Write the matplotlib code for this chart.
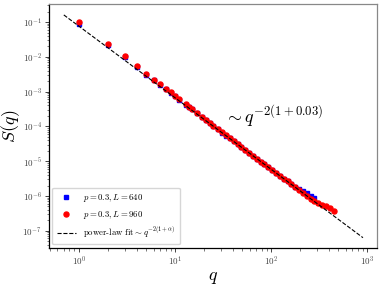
import numpy as np
import matplotlib
matplotlib.use('Agg')
import matplotlib.pyplot as plt

plt.rcParams['font.family'] = 'serif'
plt.rcParams['font.serif'] = ['cmr10', 'DejaVu Serif']
plt.rcParams['mathtext.fontset'] = 'cm'
plt.rcParams['axes.formatter.use_mathtext'] = True

# data
q_640 = [1, 2, 3, 4, 5, 6, 7, 8, 9, 10, 11, 13, 14, 15, 17, 19, 21, 23, 25, 28,
         31, 34, 37, 41, 45, 49, 54, 59, 65, 71, 78, 85, 93, 102, 112, 123, 135,
         148, 162, 178, 195, 214, 234, 257, 282]
S_640 = [0.0884, 0.0212, 0.00986, 0.00520, 0.00307, 0.00211, 0.00153, 0.00116,
         0.000914, 0.000727, 0.000592, 0.000419, 0.000356, 0.000308, 0.000236,
         0.000187, 0.000152, 0.000125, 0.000105, 8.24e-5, 6.68e-5, 5.46e-5,
         4.58e-5, 3.71e-5, 3.06e-5, 2.57e-5, 2.10e-5, 1.75e-5, 1.44e-5, 1.18e-5,
         9.75e-6, 8.17e-6, 6.79e-6, 5.60e-6, 4.62e-6, 3.81e-6, 3.15e-6, 2.61e-6,
         2.16e-6, 1.82e-6, 1.58e-6, 1.37e-6, 1.19e-6, 1.03e-6, 8.89e-7]

q_960 = q_640 + [309, 339, 372, 408, 453]
S_960 = [0.100, 0.0238, 0.0108, 0.00557, 0.00321, 0.00221, 0.00161, 0.00122,
         0.00098, 0.000761, 0.000619, 0.000434, 0.000368, 0.000319, 0.000244,
         0.000191, 0.000156, 0.000128, 0.000106, 8.34e-5, 6.76e-5, 5.52e-5,
         4.63e-5, 3.75e-5, 3.10e-5, 2.60e-5, 2.10e-5, 1.75e-5, 1.44e-5, 1.18e-5,
         9.75e-6, 8.17e-6, 6.79e-6, 5.60e-6, 4.62e-6, 3.81e-6, 3.15e-6, 2.61e-6,
         2.16e-6, 1.78e-6, 1.48e-6, 1.22e-6, 9.91e-7, 8.36e-7, 7.06e-7,
         6.27e-7, 5.68e-7, 5.13e-7, 4.45e-7, 3.80e-7]

# power-law fit S = A q^(-2(1+alpha))
fit_amp = 0.077
fit_alpha = 0.03
fit_qmin, fit_qmax = 0.7, 900

fig = plt.figure(figsize=(3.82, 2.88), dpi=100)
ax = fig.add_axes([0.128, 0.139, 0.859, 0.847])

ax.plot(q_640, S_640, 's', color='blue', ms=3.2, label=r'$p=0.3, L=640$')
ax.plot(q_960, S_960, 'o', color='red', ms=3.6, label=r'$p=0.3, L=960$')
qf = np.logspace(np.log10(fit_qmin), np.log10(fit_qmax), 200)
ax.plot(qf, fit_amp * qf ** (-2 * (1 + fit_alpha)), '--', color='black', lw=0.8,
        label=r'power-law fit$\sim q^{-2(1+\alpha)}$')

ax.set_xscale('log')
ax.set_yscale('log')
ax.set_xlim(0.49, 1260)
ax.set_ylim(3.2e-8, 0.33)

ax.text(0.535, 0.54, r'$\sim q^{-2(1+0.03)}$', transform=ax.transAxes,
        fontsize=13, ha='left', va='center')

ax.set_xlabel(r'$q$', fontsize=13, labelpad=1)
ax.set_ylabel(r'$S(q)$', fontsize=13, labelpad=0)

ax.tick_params(which='both', labelsize=6.5, colors='#444444', direction='out', pad=2)
ax.tick_params(which='major', length=3, width=0.7)
ax.tick_params(which='minor', length=1.8, width=0.5)
for s in ['left', 'bottom']:
    ax.spines[s].set_color('black')
    ax.spines[s].set_linewidth(0.9)
for s in ['top', 'right']:
    ax.spines[s].set_color('#888888')
    ax.spines[s].set_linewidth(0.9)

leg = ax.legend(loc='lower left', fontsize=6.3, frameon=True, fancybox=True,
                handlelength=2.2, handletextpad=0.8, borderpad=0.5,
                labelspacing=0.55, borderaxespad=0.4)
leg.get_frame().set_edgecolor('#cccccc')

fig.savefig('out.png', dpi=100)
